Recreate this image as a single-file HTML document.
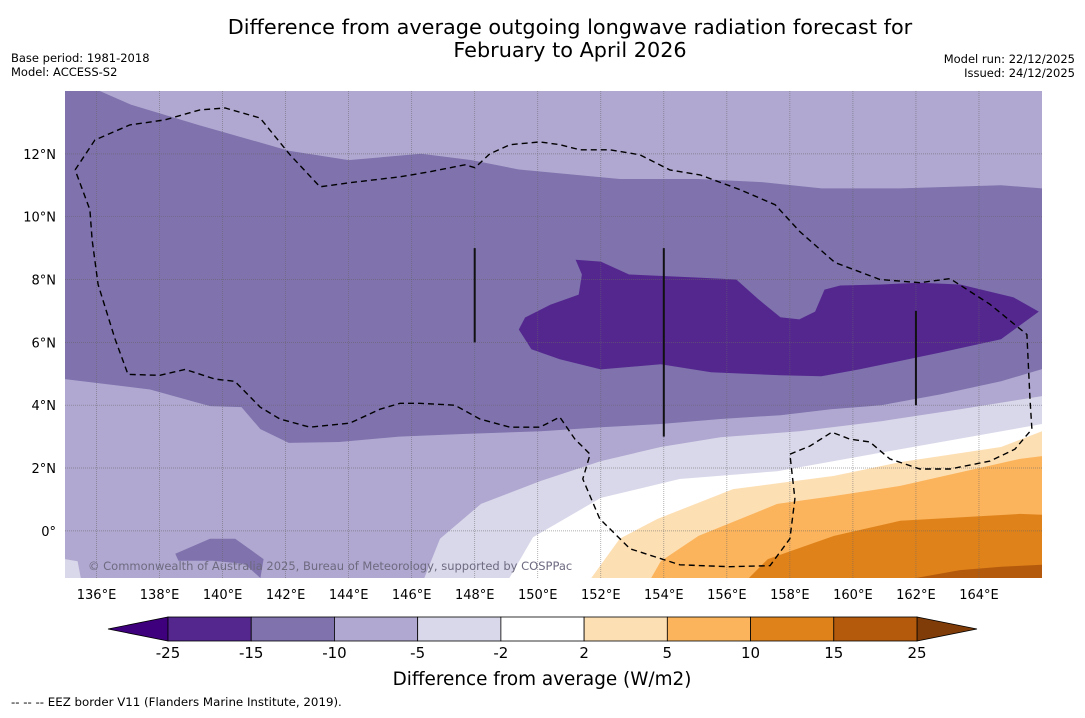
<!DOCTYPE html>
<html><head><meta charset="utf-8">
<style>
body{margin:0;background:#fff;font-family:"Liberation Sans","DejaVu Sans",sans-serif;}
svg text{font-family:"DejaVu Sans","Liberation Sans",sans-serif;}
</style></head>
<body>
<svg id="chart" width="1085" height="713" xmlns="http://www.w3.org/2000/svg">
<text x="570" y="34" font-size="20.8" text-anchor="middle">Difference from average outgoing longwave radiation forecast for</text>
<text x="570" y="57" font-size="20.8" text-anchor="middle">February to April 2026</text>
<text x="11" y="62" font-size="11.5">Base period: 1981-2018</text>
<text x="11" y="76" font-size="11.5">Model: ACCESS-S2</text>
<text x="1075" y="63" font-size="11.5" text-anchor="end">Model run: 22/12/2025</text>
<text x="1075" y="77" font-size="11.5" text-anchor="end">Issued: 24/12/2025</text>
<defs><clipPath id="mapclip"><rect x="65" y="91" width="977" height="487"/></clipPath></defs>
<g id="map" clip-path="url(#mapclip)"></g>
<g id="axes"></g>
<g id="cbar"></g>
<text x="542" y="685" font-size="18.4" text-anchor="middle">Difference from average (W/m2)</text>
<text x="11" y="706" font-size="11.8">--  --  -- EEZ border V11 (Flanders Marine Institute, 2019).</text>
</svg>
<script>
// Axis ranges
const lonMin=135, lonMax=166, latMin=-1.5, latMax=14;
const lonTicks=[136,138,140,142,144,146,148,150,152,154,156,158,160,162,164];
const latTicks=[0,2,4,6,8,10,12];
const cbarLevels=[-25,-15,-10,-5,-2,2,5,10,15,25];
const cbarColors=["#54278f","#7f72ad","#b0a8d0","#d9d8ea","#ffffff","#fddfb4","#fbb45c","#e0821a","#b35a0c"];
const cbarLow="#3f007d", cbarHigh="#7f3b08";
// Contour regions [lon,lat]
const medPurpleRegion=[[135,14],[136.1,14],[137.1,13.56],[139.3,12.9],[142.1,12.1],[144.0,11.8],[146.3,12.0],[147.9,11.8],[149.4,11.5],[152.6,11.2],[155.1,11.2],[157.1,11.1],[159.0,10.9],[161.5,10.9],[164.7,11.0],[166,10.9],[166,5.15],[164.7,4.76],[162.8,4.35],[160.9,4.0],[159.3,3.87],[157.7,3.68],[155.8,3.56],[153.9,3.4],[152.0,3.3],[150.1,3.17],[147.5,3.08],[145.6,3.0],[143.7,2.83],[142.1,2.8],[141.2,3.24],[140.6,3.94],[139.6,3.97],[137.7,4.5],[135,4.83]];
const medPurplePatch=[[138.5,-0.73],[139.6,-0.25],[140.4,-0.25],[141.3,-0.9],[141.2,-1.5],[140.7,-1.05],[139.7,-0.95],[138.6,-0.95]];
const darkPurpleRegion=[[151.2,8.63],[152.0,8.57],[152.9,8.16],[155.1,8.06],[156.3,8.0],[157.0,7.37],[157.7,6.8],[158.3,6.73],[158.8,6.98],[159.1,7.68],[159.6,7.81],[160.9,7.84],[162.1,7.9],[163.4,7.84],[165.1,7.43],[165.9,6.98],[164.7,6.1],[162.8,5.68],[160.2,5.14],[159.0,4.92],[157.7,4.95],[155.5,5.05],[153.9,5.3],[152.0,5.14],[150.7,5.46],[149.8,5.78],[149.4,6.41],[149.6,6.79],[150.4,7.2],[151.3,7.52],[151.4,8.16]];
const lightestRegion=[[146.4,-1.5],[146.9,-0.25],[148.2,0.86],[150.1,1.59],[152.0,2.22],[153.9,2.67],[155.8,2.98],[158.3,3.17],[160.9,3.49],[163.4,3.87],[166,4.29],[166,-1.5]];
const cornerLightest=[[135,-0.9],[135.4,-0.97],[135.5,-1.5],[135,-1.5]];
const whiteRegion=[[149.1,-1.5],[149.85,-0.2],[152.0,1.05],[154.5,1.65],[157.6,1.9],[161.5,2.6],[166,3.4],[166,-1.5]];
const paleOrangeRegion=[[151.7,-1.5],[152.6,-0.25],[153.8,0.38],[156.2,1.33],[159.4,1.75],[161.5,2.19],[164.7,2.67],[166,3.17],[166,-1.5]];
const orangeRegion=[[153.6,-1.5],[153.9,-0.97],[155.1,-0.16],[157.6,0.86],[159.4,1.11],[161.5,1.43],[165.3,2.29],[166,2.38],[166,-1.5]];
const darkOrangeRegion=[[156.7,-1.5],[157.3,-0.9],[159.4,-0.16],[161.5,0.32],[165.3,0.54],[166,0.51],[166,-1.5]];
const brownRegion=[[162.0,-1.5],[163.4,-1.25],[164.7,-1.14],[166,-1.08],[166,-1.5]];
const eezBorder=[[135.32,11.49],[135.95,12.44],[137.06,12.92],[138.17,13.08],[139.28,13.40],[140.08,13.46],[141.19,13.14],[142.14,11.97],[143.09,10.95],[144.04,11.08],[145.63,11.27],[146.58,11.43],[147.69,11.65],[148.01,11.56],[148.48,12.0],[149.12,12.29],[150.07,12.38],[150.70,12.29],[151.34,12.13],[152.29,12.13],[153.24,11.97],[154.19,11.49],[155.15,11.33],[156.42,10.86],[157.53,10.38],[158.32,9.52],[159.43,8.54],[160.86,8.0],[162.13,7.9],[163.08,8.03],[164.35,7.21],[165.52,6.25],[165.62,4.19],[165.68,3.24],[165.14,2.6],[164.35,2.22],[163.08,1.97],[162.13,1.97],[161.17,2.29],[160.54,2.83],[159.9,2.92],[159.33,3.14],[158.64,2.70],[158.0,2.44],[158.16,1.02],[158.0,-0.25],[157.37,-1.11],[156.1,-1.14],[154.51,-1.08],[152.93,-0.57],[151.97,0.38],[151.43,1.65],[151.66,2.44],[151.18,2.92],[150.70,3.62],[150.07,3.30],[149.12,3.30],[148.16,3.56],[147.37,4.0],[146.26,4.06],[145.63,4.06],[144.99,3.87],[144.04,3.43],[142.77,3.30],[141.82,3.56],[141.19,3.94],[140.39,4.76],[139.76,4.83],[138.81,5.14],[138.01,4.95],[137.0,4.98],[136.59,6.1],[136.05,7.84],[135.86,9.27],[135.79,10.22],[135.32,11.49]];
const boundaryLines=[[[148,9],[148,6]],[[154,9],[154,3]],[[162,7],[162,4]]];

const NS="http://www.w3.org/2000/svg";
const X0=65,X1=1042,Y0=91,Y1=578;
const xs=lon=>X0+(lon-lonMin)/(lonMax-lonMin)*(X1-X0);
const ys=lat=>Y1-(lat-latMin)/(latMax-latMin)*(Y1-Y0);
function mk(tag,attrs,parent){const e=document.createElementNS(NS,tag);for(const k in attrs)e.setAttribute(k,attrs[k]);parent.appendChild(e);return e;}
const pts=arr=>arr.map(p=>xs(p[0]).toFixed(1)+","+ys(p[1]).toFixed(1)).join(" ");
const map=document.getElementById("map");
let bg=mk("rect",{x:X0,y:Y0,width:X1-X0,height:Y1-Y0,fill:"#b0a8d0"},map);


const regions=[[medPurpleRegion,"#7f72ad","band-minus15-minus10"],[medPurplePatch,"#7f72ad","band-minus15-minus10-patch"],[darkPurpleRegion,"#54278f","band-minus25-minus15"],[lightestRegion,"#d9d8ea","band-minus5-minus2"],[cornerLightest,"#d9d8ea","band-minus5-minus2-corner"],[whiteRegion,"#ffffff","band-minus2-2"],[paleOrangeRegion,"#fddfb4","band-2-5"],[orangeRegion,"#fbb45c","band-5-10"],[darkOrangeRegion,"#e0821a","band-10-15"],[brownRegion,"#b35a0c","band-15-25"]];
regions.forEach(r=>{const p=mk("polygon",{points:pts(r[0]),fill:r[1]},map);

});
lonTicks.forEach(l=>{const g=mk("line",{x1:xs(l),x2:xs(l),y1:Y0,y2:Y1,stroke:"#666",'stroke-width':0.7,'stroke-dasharray':"1,1",opacity:0.7},map);

});
latTicks.forEach(l=>{const g=mk("line",{x1:X0,x2:X1,y1:ys(l),y2:ys(l),stroke:"#666",'stroke-width':0.7,'stroke-dasharray':"1,1",opacity:0.7},map);

});
boundaryLines.forEach(b=>{const l=mk("line",{x1:xs(b[0][0]),y1:ys(b[0][1]),x2:xs(b[1][0]),y2:ys(b[1][1]),stroke:"#111",'stroke-width':2},map);

});
const eez=mk("polyline",{points:pts(eezBorder),fill:"none",stroke:"#000",'stroke-width':1.4,'stroke-dasharray':"6,4"},map);


const cp=mk("text",{x:88,y:570,'font-size':11.5,fill:"#6e6a80"},map);
cp.textContent="© Commonwealth of Australia 2025, Bureau of Meteorology, supported by COSPPac";


const axes=document.getElementById("axes");
lonTicks.forEach(l=>{const t=mk("text",{x:xs(l),y:599,'font-size':13,'text-anchor':"middle"},axes);t.textContent=l+"°E";

});
latTicks.forEach(l=>{const t=mk("text",{x:56,y:ys(l)+5,'font-size':13,'text-anchor':"end"},axes);t.textContent=l===0?"0°":l+"°N";

});
const cb=document.getElementById("cbar");
const CX0=168,CX1=917,CY0=617,CY1=641;
const seg=(CX1-CX0)/cbarColors.length;
const lowTri=mk("polygon",{points:`108,629 ${CX0},${CY0} ${CX0},${CY1}`,fill:cbarLow,stroke:"#000",'stroke-width':0.8},cb);


const hiTri=mk("polygon",{points:`977,629 ${CX1},${CY0} ${CX1},${CY1}`,fill:cbarHigh,stroke:"#000",'stroke-width':0.8},cb);


cbarColors.forEach((c,i)=>{const r=mk("rect",{x:CX0+i*seg,y:CY0,width:seg,height:CY1-CY0,fill:c,stroke:"#000",'stroke-width':0.8},cb);

});
cbarLevels.forEach((v,i)=>{const t=mk("text",{x:CX0+i*seg,y:658,'font-size':15,'text-anchor':"middle"},cb);t.textContent=v;

});
</script>
</body></html>
